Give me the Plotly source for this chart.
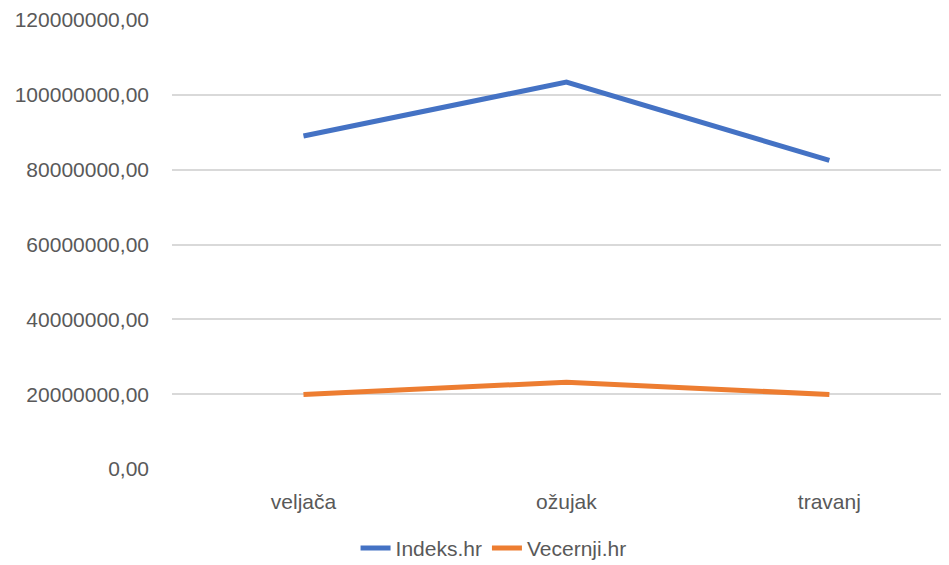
import plotly.graph_objects as go

months = ['veljača', 'ožujak', 'travanj']
indeks = [89000000, 103400000, 82500000]
vecernji = [19900000, 23200000, 19900000]

y_ticks = [0, 20000000, 40000000, 60000000, 80000000, 100000000, 120000000]
y_labels = ['0,00', '20000000,00', '40000000,00', '60000000,00',
            '80000000,00', '100000000,00', '120000000,00']

fig = go.Figure()
fig.add_trace(go.Scatter(x=months, y=indeks, name='Indeks.hr', mode='lines',
                         line=dict(color='#4472C4', width=5)))
fig.add_trace(go.Scatter(x=months, y=vecernji, name='Vecernji.hr', mode='lines',
                         line=dict(color='#ED7D31', width=5)))

# page body has an 8px margin, so the figure is 8px smaller than the window
fig.update_layout(
    width=941, height=557,
    margin=dict(l=164, r=0, t=12, b=96),
    paper_bgcolor='white', plot_bgcolor='white',
    font=dict(family='Liberation Sans', size=21, color='#595959'),
    showlegend=True,
    legend=dict(orientation='h', xref='container', yref='container',
                x=0.516, xanchor='center', y=0.03, yanchor='middle',
                font=dict(size=21, color='#595959')),
)
fig.update_xaxes(type='category', range=[-0.5, 2.455], showgrid=False,
                 showline=False, zeroline=False,
                 ticks='outside', ticklen=14, tickcolor='rgba(0,0,0,0)')
fig.update_yaxes(range=[0, 120000000], tickvals=y_ticks, ticktext=y_labels,
                 showgrid=True, gridcolor='#D9D9D9', gridwidth=1.5,
                 zeroline=False, showline=False, ticklabelstandoff=22)

fig.write_html("out.html")
